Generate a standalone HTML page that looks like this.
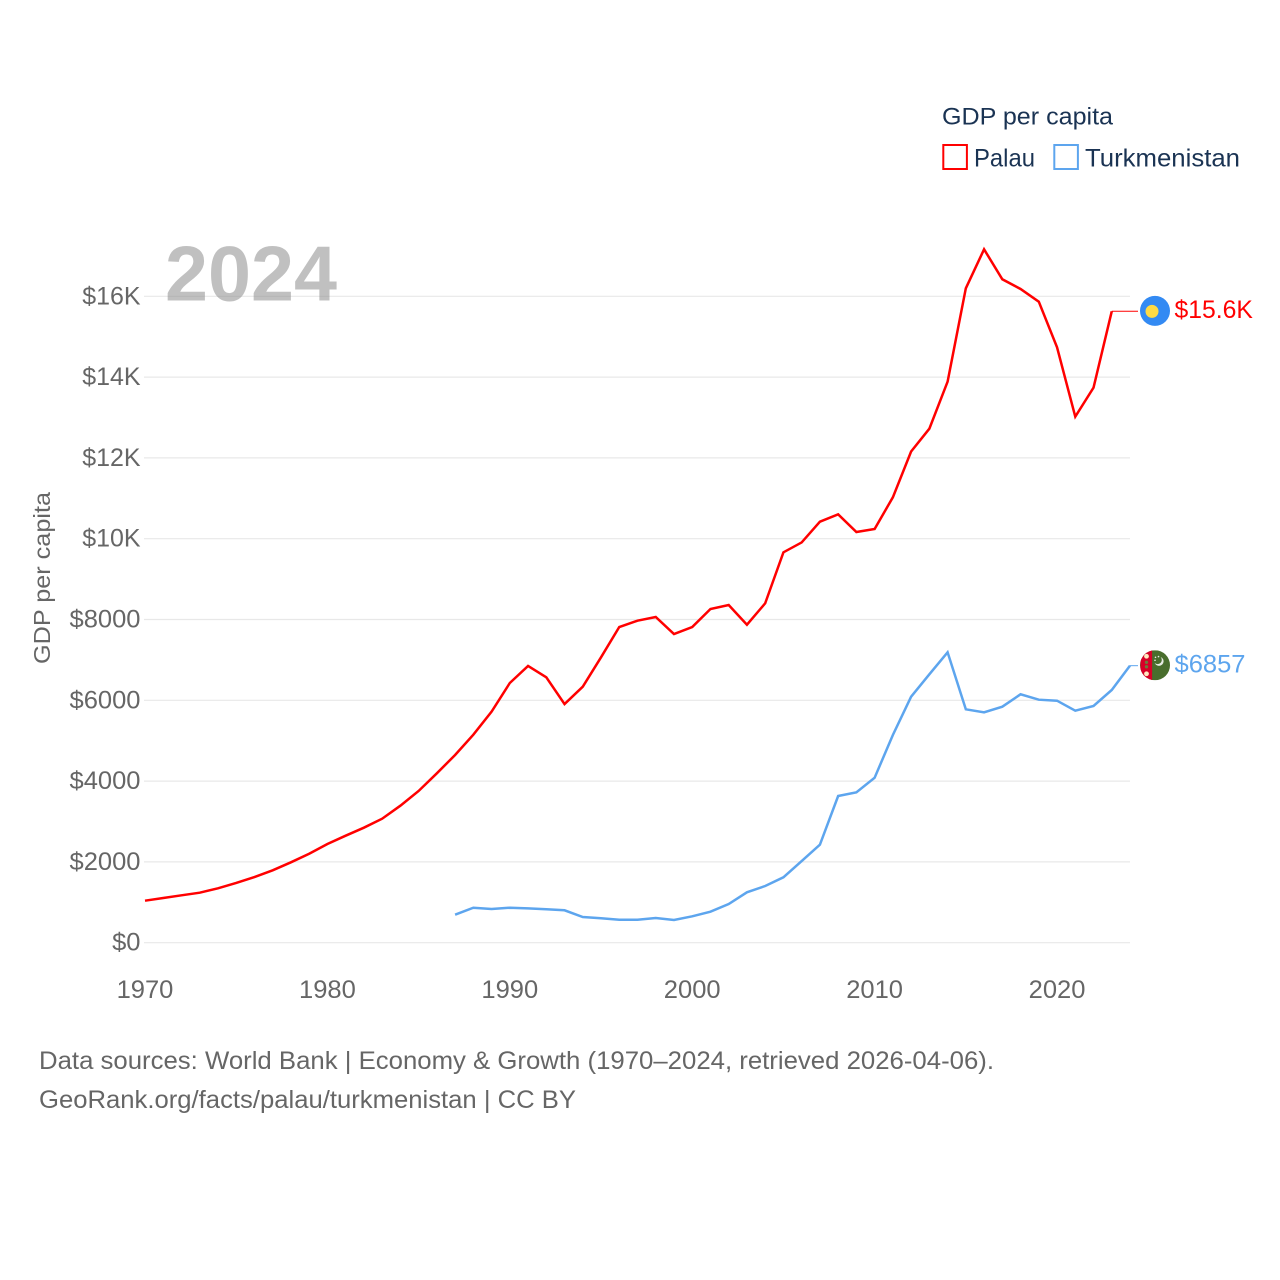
<!DOCTYPE html>
<html lang="en">
<head>
<meta charset="utf-8">
<title>GDP per capita: Palau and Turkmenistan</title>
<style>
html,body{margin:0;padding:0;background:#fff;}
svg{display:block;font-family:"Liberation Sans",sans-serif;}
</style>
</head>
<body>
<svg id="chart" xmlns="http://www.w3.org/2000/svg" width="1280" height="1280" viewBox="0 0 1280 1280">
  <rect x="0" y="0" width="1280" height="1280" fill="#ffffff"/>
  <g id="grid"></g>
  <text x="165" y="300.5" font-size="78" font-weight="700" fill="#8c8c8c" fill-opacity="0.55" textLength="172" lengthAdjust="spacingAndGlyphs">2024</text>
  <g id="y-axis"></g>
  <g id="x-axis"></g>
  <text transform="translate(50,578) rotate(-90)" text-anchor="middle" font-size="23.5" fill="#666666" textLength="172" lengthAdjust="spacingAndGlyphs">GDP per capita</text>
  <g id="series"></g>

  <g>
    <text x="942" y="124.5" font-size="24" fill="#1a3353" textLength="171" lengthAdjust="spacingAndGlyphs">GDP per capita</text>
    <g>
      <rect x="943.3" y="145" width="23.6" height="24" fill="none" stroke="#ff0000" stroke-width="2"/>
      <text x="974" y="166.5" font-size="25" fill="#1a3353" textLength="61" lengthAdjust="spacingAndGlyphs">Palau</text>
    </g>
    <g>
      <rect x="1054.3" y="145" width="23.6" height="24" fill="none" stroke="#5da5ee" stroke-width="2"/>
      <text x="1085" y="166.5" font-size="25" fill="#1a3353" textLength="155" lengthAdjust="spacingAndGlyphs">Turkmenistan</text>
    </g>
  </g>

  <g id="end-labels"></g>

  <g>
    <text x="39" y="1069" font-size="25" fill="#666666" textLength="955" lengthAdjust="spacingAndGlyphs">Data sources: World Bank | Economy &amp; Growth (1970–2024, retrieved 2026-04-06).</text>
    <text x="39" y="1108" font-size="25" fill="#666666" textLength="537" lengthAdjust="spacingAndGlyphs">GeoRank.org/facts/palau/turkmenistan | CC BY</text>
  </g>

  <defs>
    <clipPath id="tm-clip"><circle cx="0" cy="0" r="15"/></clipPath>
  </defs>
  <g id="palau-flag-art">
    <circle cx="0" cy="0" r="15" fill="#338af3"/>
    <circle cx="-3" cy="0.5" r="6.5" fill="#ffda44"/>
  </g>
  <g id="turkmenistan-flag-art">
    <g clip-path="url(#tm-clip)">
      <rect x="-15" y="-15" width="30" height="30" fill="#496e2d"/>
      <rect x="-14.5" y="-15" width="11.6" height="30" fill="#d80027"/>
      <circle cx="-8.5" cy="-9" r="2.4" fill="#ffe9c0"/>
      <circle cx="-8.5" cy="-3" r="1.7" fill="#6e7a3a"/>
      <circle cx="-8.5" cy="1.5" r="1.7" fill="#6e7a3a"/>
      <circle cx="-8.5" cy="8.5" r="2.4" fill="#ffe9c0"/>
      <circle cx="4" cy="-4" r="4.6" fill="#e8ece4"/>
      <circle cx="2.6" cy="-5.4" r="4.2" fill="#496e2d"/>
      <circle cx="0.5" cy="-8" r="0.8" fill="#e8ece4"/>
      <circle cx="3.5" cy="-8.7" r="0.8" fill="#e8ece4"/>
      <circle cx="0" cy="-5" r="0.8" fill="#e8ece4"/>
    </g>
  </g>
</svg>

<script>
var palauStartYear = 1970;
var palauValues = [
  1040, 1106, 1173, 1238, 1347, 1478, 1626, 1792, 1990, 2203,
  2443, 2649, 2847, 3069, 3391, 3755, 4193, 4646, 5149, 5718,
  6428, 6849, 6569, 5908, 6337, 7064, 7814, 7970, 8062, 7641,
  7814, 8260, 8359, 7871, 8401, 9663, 9908, 10421, 10604, 10166,
  10240, 11025, 12158, 12723, 13886, 16198, 17163, 16421, 16181, 15866,
  14738, 13020, 13738, 15629
];
var turkmenistanStartYear = 1987;
var turkmenistanValues = [
  693, 866, 834, 866, 851, 827, 802, 636, 604, 569,
  569, 611, 562, 653, 767, 958, 1248, 1403, 1619, 2022,
  2426, 3631, 3723, 4084, 5141, 6089, 6644, 7188, 5777, 5703,
  5842, 6149, 6015, 5990, 5743, 5859, 6255, 6857
];
var yTickValues = [0, 2000, 4000, 6000, 8000, 10000, 12000, 14000, 16000];
var yTickLabels = ["$0", "$2000", "$4000", "$6000", "$8000", "$10K", "$12K", "$14K", "$16K"];
var xTickYears = [1970, 1980, 1990, 2000, 2010, 2020];
var xTickLabels = ["1970", "1980", "1990", "2000", "2010", "2020"];

var NS = "http://www.w3.org/2000/svg";
function xScale(year) { return 145 + (year - 1970) * (985 / 54); }
function yScale(value) { return 942.7 - value * 0.0404; }
function formatValue(v) {
  if (v >= 10000) { return "$" + (v / 1000).toFixed(1) + "K"; }
  return "$" + Math.round(v);
}
function labelWidth(text) {
  var em = 0;
  for (var i = 0; i < text.length; i++) {
    var c = text.charAt(i);
    em += c === "K" ? 0.64 : c === "." ? 0.24 : 0.58;
  }
  return (em * 24.5).toFixed(1);
}
function make(tag, attrs, parent) {
  var el = document.createElementNS(NS, tag);
  for (var k in attrs) { el.setAttribute(k, attrs[k]); }
  parent.appendChild(el);
  return el;
}
function linePoints(values, startYear) {
  return values.map(function (v, i) {
    return xScale(startYear + i).toFixed(2) + "," + yScale(v).toFixed(2);
  }).join(" ");
}

var grid = document.getElementById("grid");
var yAxis = document.getElementById("y-axis");
var xAxis = document.getElementById("x-axis");
var seriesGroup = document.getElementById("series");
var endLabels = document.getElementById("end-labels");

yTickValues.forEach(function (v, i) {
  var y = yScale(v);
  var line = make("line", { x1: 144, x2: 1130, y1: y, y2: y, stroke: "#e8e8e8", "stroke-width": 1.2 }, grid);
  
  
  var label = make("text", { x: 140.5, y: y + 8, "text-anchor": "end", "font-size": 25, fill: "#666666", textLength: labelWidth(yTickLabels[i]), lengthAdjust: "spacingAndGlyphs" }, yAxis);
  
  
  label.textContent = yTickLabels[i];
});

xTickYears.forEach(function (year, i) {
  var label = make("text", { x: xScale(year), y: 998, "text-anchor": "middle", "font-size": 25, fill: "#666666", textLength: labelWidth(xTickLabels[i]), lengthAdjust: "spacingAndGlyphs" }, xAxis);
  
  
  label.textContent = xTickLabels[i];
});

function drawSeries(values, startYear, color, flagId, lineName, leaderName, valueName) {
  var lastYear = startYear + values.length - 1;
  var lastValue = values[values.length - 1];
  var lastX = xScale(lastYear);
  var lastY = yScale(lastValue);

  var path = make("polyline", {
    points: linePoints(values, startYear),
    fill: "none",
    stroke: color,
    "stroke-width": 2.5,
    "stroke-linejoin": "miter"
  }, seriesGroup);
  
  

  var leader = make("line", { x1: lastX, x2: 1138, y1: lastY, y2: lastY, stroke: color, "stroke-width": 1 }, seriesGroup);
  
  

  var flag = document.getElementById(flagId);
  flag.setAttribute("transform", "translate(1155," + (lastY - 0.4).toFixed(2) + ")");

  var label = formatValue(lastValue);
  var text = make("text", { x: 1174.5, y: lastY + 6.6, "font-size": 25, fill: color, textLength: labelWidth(label), lengthAdjust: "spacingAndGlyphs" }, endLabels);
  
  
  text.textContent = label;
}

drawSeries(palauValues, palauStartYear, "#ff0000", "palau-flag-art", "palau-line", "palau-leader-line", "palau-end-value");
drawSeries(turkmenistanValues, turkmenistanStartYear, "#5da5ee", "turkmenistan-flag-art", "turkmenistan-line", "turkmenistan-leader-line", "turkmenistan-end-value");
</script>
</body>
</html>
